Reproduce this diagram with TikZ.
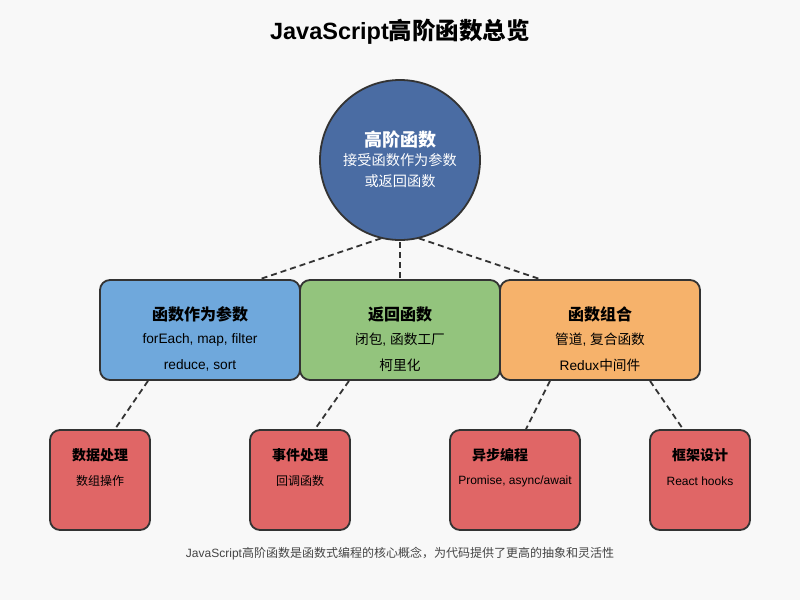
\documentclass[tikz,border=0pt]{standalone}
\usepackage{fontspec}
\setmainfont{Liberation Sans}
\newfontfamily\cjk{Noto Sans CJK SC}
\newcommand\zh[1]{{\cjk #1}}
\usetikzlibrary{calc}
\definecolor{bgc}{HTML}{F8F8F8}
\definecolor{edge}{HTML}{333333}
\definecolor{circc}{HTML}{4A6CA3}
\definecolor{bluec}{HTML}{6FA8DC}
\definecolor{greenc}{HTML}{93C47D}
\definecolor{orangec}{HTML}{F6B26B}
\definecolor{redc}{HTML}{E06666}
\definecolor{notec}{HTML}{444444}
\tikzset{
  midbox/.style={draw=edge, line width=1.8pt, rounded corners=10pt, minimum width=200pt, minimum height=100pt, inner sep=0pt},
  leafbox/.style={draw=edge, line width=1.8pt, rounded corners=10pt, minimum height=100pt, inner sep=0pt, fill=redc},
  conn/.style={draw=edge, line width=1.8pt, dash pattern=on 6pt off 4pt},
  boxtitle/.style={font=\bfseries\fontsize{16}{19}\selectfont, text=black, inner sep=0pt},
  boxline/.style={font=\fontsize{13.7}{16}\selectfont, text=black, inner sep=0pt},
  leaftitle/.style={font=\bfseries\fontsize{14}{16}\selectfont, text=black, inner sep=0pt},
  leafline/.style={font=\fontsize{12}{14}\selectfont, text=black, inner sep=0pt},
}
\begin{document}
\begin{tikzpicture}[x=1pt, y=-1pt]
\useasboundingbox (0,0) rectangle (800,600);
\fill[bgc] (0,0) rectangle (800,600);

\node[font=\bfseries\fontsize{23.5}{28}\selectfont, inner sep=0pt] (title) at (400,32) {JavaScript\zh{高阶函数总览}};

% middle boxes
\node[midbox, fill=bluec] (b1) at (200,330) {};
\node[midbox, fill=greenc] (b2) at (400,330) {};
\node[midbox, fill=orangec] (b3) at (600,330) {};

% leaves
\node[leafbox, minimum width=100pt] (l1) at (100,480) {};
\node[leafbox, minimum width=100pt] (l2) at (300,480) {};
\node[leafbox, minimum width=130pt] (l3) at (515,480) {};
\node[leafbox, minimum width=100pt] (l4) at (700,480) {};

% circle
\coordinate (hofc) at (400,160);
\draw[conn] (400,232) -- ([xshift=60pt]b1.north);
\draw[conn] (400,232) -- (b2.north);
\draw[conn] (400,232) -- ([xshift=-60pt]b3.north);
\node[circle, draw=edge, line width=1.8pt, fill=circc, minimum size=160pt, inner sep=0pt] (hof) at (hofc) {};

\draw[conn] ([xshift=-52pt]b1.south) -- ([xshift=15pt]l1.north);
\draw[conn] ([xshift=-51pt]b2.south) -- ([xshift=15pt]l2.north);
\draw[conn] ([xshift=-50pt]b3.south) -- ([xshift=11pt]l3.north);
\draw[conn] ([xshift=50pt]b3.south) -- ([xshift=-17pt]l4.north);

% circle text
\node[font=\bfseries\fontsize{18}{21}\selectfont, text=white, inner sep=0pt] (ht) at (400,140) {\zh{高阶函数}};
\node[font=\fontsize{14.2}{16}\selectfont, text=white, inner sep=0pt] (h2) at (400,160) {\zh{接受函数作为参数}};
\node[font=\fontsize{14.2}{16}\selectfont, text=white, inner sep=0pt] (h3) at (400,181) {\zh{或返回函数}};

% box texts
\node[boxtitle] (b1t) at (200,314) {\zh{函数作为参数}};
\node[boxline] (b1a) at (200,340) {forEach, map, filter};
\node[boxline] (b1b) at (200,365) {reduce, sort};
\node[boxtitle] (b2t) at (400,314) {\zh{返回函数}};
\node[boxline] (b2a) at (400,340) {\zh{闭包}, \zh{函数工厂}};
\node[boxline] (b2b) at (400,365) {\zh{柯里化}};
\node[boxtitle] (b3t) at (600,314) {\zh{函数组合}};
\node[boxline] (b3a) at (600,340) {\zh{管道}, \zh{复合函数}};
\node[boxline] (b3b) at (600,365) {Redux\zh{中间件}};

% leaf texts
\node[leaftitle] (l1t) at (100,455) {\zh{数据处理}};
\node[leafline] (l1a) at (100,481) {\zh{数组操作}};
\node[leaftitle] (l2t) at (300,455) {\zh{事件处理}};
\node[leafline] (l2a) at (300,481) {\zh{回调函数}};
\node[leaftitle] (l3t) at (500,455) {\zh{异步编程}};
\node[leafline] (l3a) at (515,481) {Promise, async/await};
\node[leaftitle] (l4t) at (700,455) {\zh{框架设计}};
\node[leafline] (l4a) at (700,481) {React hooks};

% note
\node[font=\fontsize{12}{14}\selectfont, text=notec, inner sep=0pt] (note) at (400,554) {JavaScript\zh{高阶函数是函数式编程的核心概念，为代码提供了更高的抽象和灵活性}};
\end{tikzpicture}
\end{document}
